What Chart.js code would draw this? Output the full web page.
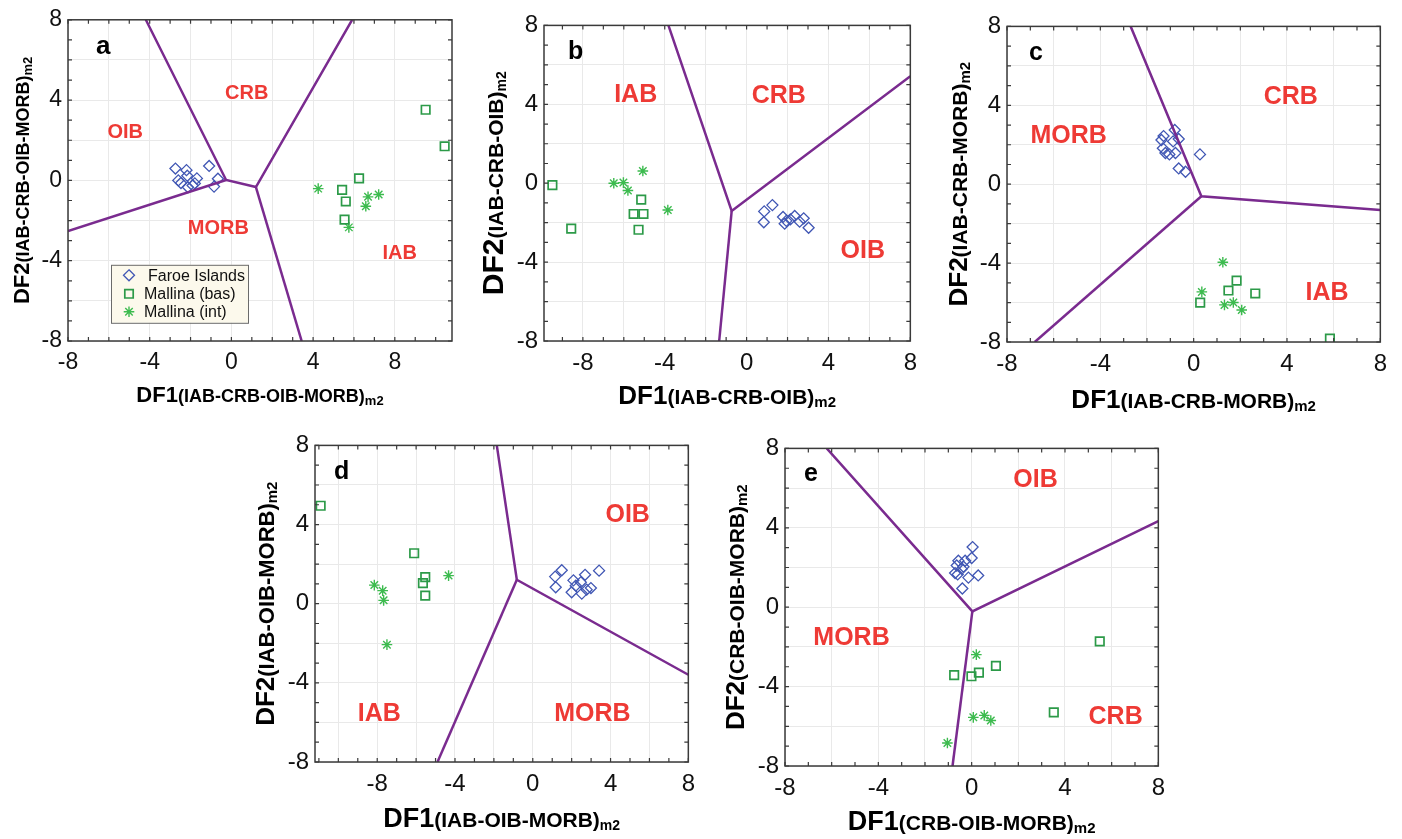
<!DOCTYPE html>
<html>
<head>
<meta charset="utf-8">
<script src="https://cdn.jsdelivr.net/npm/chart.js@4.4.1/dist/chart.umd.min.js"></script>
<style>
  html, body { margin: 0; padding: 0; background: #ffffff; }
  body { width: 1402px; height: 839px; position: relative; overflow: hidden; }
  canvas { position: absolute; }
</style>
</head>
<body>
<canvas id="panel-a"></canvas>
<canvas id="panel-b"></canvas>
<canvas id="panel-c"></canvas>
<canvas id="panel-d"></canvas>
<canvas id="panel-e"></canvas>
<script>
// values: [DF1, DF2]
const aFaroe = [[-2.74, 0.59], [-2.2, 0.51], [-1.09, 0.72], [-2.16, 0.23], [-2.6, 0], [-2.47, -0.13], [-1.69, 0.1], [-1.79, -0.15], [-2.13, -0.34], [-0.66, 0.08], [-0.85, -0.31], [-1.9, -0.25]];
const aBas = [[9.51, 3.52], [10.44, 1.7], [6.25, 0.1], [5.42, -0.47], [5.6, -1.05], [5.54, -1.95]];
const aInt = [[4.25, -0.41], [6.69, -0.82], [7.21, -0.7], [6.58, -1.29], [5.75, -2.34]];
const aBounds = [[[-4.19, 8], [-0.26, 0.02], [1.2, -0.33], [5.91, 8]], [[-8, -2.52], [-0.26, 0.02]], [[1.2, -0.33], [3.44, -8]]];
const aRegions = [['CRB', 0.75, 4.34], ['OIB', -5.2, 2.37], ['MORB', -0.64, -2.41], ['IAB', 8.24, -3.64]];

const bFaroe = [[0.86, -1.43], [1.26, -1.11], [0.84, -1.98], [1.78, -1.71], [1.86, -2.05], [2.14, -1.83], [2.35, -1.66], [2.59, -1.95], [2.79, -1.78], [3.03, -2.26], [1.94, -1.91]];
const bBas = [[-9.49, -0.1], [-8.57, -2.3], [-5.15, -0.83], [-5.52, -1.56], [-5.04, -1.56], [-5.28, -2.36]];
const bInt = [[-6.49, 0], [-6.02, 0.03], [-5.8, -0.37], [-5.07, 0.62], [-3.85, -1.36]];
const bBounds = [[[-3.82, 8], [-0.73, -1.41], [8, 5.42]], [[-0.73, -1.41], [-1.34, -8]]];
const bRegions = [['IAB', -5.42, 4.46], ['CRB', 1.57, 4.39], ['OIB', 5.68, -3.46]];

const cFaroe = [[-1.29, 2.44], [-1.38, 2.24], [-0.81, 2.75], [-0.88, 2.17], [-0.64, 2.29], [-1.32, 1.82], [-1.21, 1.58], [-1.04, 1.51], [-0.78, 1.58], [-0.64, 0.8], [-0.35, 0.63], [0.27, 1.51]];
const cBas = [[0.28, -6.0], [1.49, -5.39], [1.84, -4.89], [2.64, -5.54], [5.84, -7.83]];
const cInt = [[1.25, -3.96], [0.35, -5.46], [1.32, -6.12], [1.7, -6.0], [2.06, -6.38]];
const cBounds = [[[-2.7, 8], [0.33, -0.61], [8, -1.31]], [[0.33, -0.61], [-6.81, -8]]];
const cRegions = [['CRB', 4.16, 4.41], ['MORB', -5.36, 2.42], ['IAB', 5.72, -5.5]];

const dFaroe = [[1.15, 1.37], [1.49, 1.69], [1.18, 0.83], [2.09, 1.18], [2.21, 0.91], [2.0, 0.58], [2.47, 1.08], [2.69, 1.46], [2.52, 0.51], [2.77, 0.71], [2.99, 0.79], [3.41, 1.67]];
const dBas = [[-10.91, 4.95], [-6.1, 2.55], [-5.53, 1.34], [-5.65, 1.04], [-5.53, 0.41]];
const dInt = [[-8.15, 0.94], [-7.72, 0.66], [-7.67, 0.17], [-7.5, -2.07], [-4.33, 1.42]];
const dBounds = [[[-1.85, 8], [-0.82, 1.21], [8, -3.59]], [[-0.82, 1.21], [-4.9, -8]]];
const dRegions = [['OIB', 4.88, 4.49], ['IAB', -7.89, -5.58], ['MORB', 3.07, -5.58]];

const eFaroe = [[0.04, 3.03], [0, 2.48], [-0.57, 2.34], [-0.28, 2.34], [-0.35, 2.04], [-0.64, 2.1], [-0.71, 1.72], [-0.6, 1.65], [-0.43, 1.93], [-0.14, 1.49], [0.28, 1.6], [-0.4, 0.94]];
const eBas = [[5.49, -1.72], [1.04, -2.96], [0.31, -3.3], [-0.01, -3.48], [-0.75, -3.42], [3.52, -5.3]];
const eInt = [[0.2, -2.39], [0.07, -5.55], [0.54, -5.45], [0.82, -5.71], [-1.04, -6.84]];
const eBounds = [[[-6.21, 8], [0.03, -0.21], [8, 4.33]], [[0.03, -0.21], [-0.82, -8]]];
const eRegions = [['OIB', 2.74, 6.39], ['MORB', -5.15, -1.54], ['CRB', 6.17, -5.53]];

const legendLabels = ['Faroe Islands', 'Mallina (bas)', 'Mallina (int)'];

const FONT = '"Liberation Sans", Arial, Helvetica, sans-serif';
const PURPLE = '#7a2b8f';
const RED = '#ee3a35';
const BLUE = '#4157b4';
const GREEN_BAS = '#2c9a48';
const GREEN_INT = '#3dbb4f';
const GRID = '#e9e9e9';

const PANELS = [
  {
    id: 'panel-a', box: [68, 15, 452, 341], xRange: [-8, 10.8], letter: 'a', letterAt: [28, 34], letterSize: 26,
    faroe: aFaroe, bas: aBas, int: aInt, bounds: aBounds, regions: aRegions, regionSize: 20, tickSize: 23,
    xTitle: [['DF1', 22], ['(IAB-CRB-OIB-MORB)', 18], ['m2', 13, 3]], xTitleAt: 61,
    yTitle: [['DF2', 22], ['(IAB-CRB-OIB-MORB)', 18], ['m2', 13, 3]], yTitleAt: 39,
    legend: true,
  },
  {
    id: 'panel-b', box: [544, 20, 913, 341], xRange: [-9.9, 8], letter: 'b', letterAt: [24, 34], letterSize: 25,
    faroe: bFaroe, bas: bBas, int: bInt, bounds: bBounds, regions: bRegions, regionSize: 25, tickSize: 24,
    xTitle: [['DF1', 26], ['(IAB-CRB-OIB)', 21], ['m2', 15, 3]], xTitleAt: 63,
    yTitle: [['DF2', 30], ['(IAB-CRB-OIB)', 21], ['m2', 14, 3]], yTitleAt: 41,
  },
  {
    id: 'panel-c', box: [1007, 21, 1383, 342], xRange: [-8, 8], letter: 'c', letterAt: [22, 34], letterSize: 25,
    faroe: cFaroe, bas: cBas, int: cInt, bounds: cBounds, regions: cRegions, regionSize: 25, tickSize: 24,
    xTitle: [['DF1', 26], ['(IAB-CRB-MORB)', 21], ['m2', 15, 3]], xTitleAt: 66,
    yTitle: [['DF2', 26], ['(IAB-CRB-MORB)', 21], ['m2', 15, 3]], yTitleAt: 40,
  },
  {
    id: 'panel-d', box: [315, 440, 691, 762], xRange: [-11.2, 8], letter: 'd', letterAt: [19, 34], letterSize: 25,
    faroe: dFaroe, bas: dBas, int: dInt, bounds: dBounds, regions: dRegions, regionSize: 25, tickSize: 24,
    xTitle: [['DF1', 27], ['(IAB-OIB-MORB)', 21], ['m2', 14, 3]], xTitleAt: 65,
    yTitle: [['DF2', 26], ['(IAB-OIB-MORB)', 22], ['m2', 15, 3]], yTitleAt: 41,
  },
  {
    id: 'panel-e', box: [785, 443, 1161, 766], xRange: [-8, 8], letter: 'e', letterAt: [19, 33], letterSize: 25,
    faroe: eFaroe, bas: eBas, int: eInt, bounds: eBounds, regions: eRegions, regionSize: 25, tickSize: 24,
    xTitle: [['DF1', 27], ['(CRB-OIB-MORB)', 21], ['m2', 15, 3]], xTitleAt: 64,
    yTitle: [['DF2', 26], ['(CRB-OIB-MORB)', 21], ['m2', 15, 3]], yTitleAt: 41,
  },
];

const Y_AXIS_W = 70;
const X_AXIS_H = 75;
const PAD_TOP = 15;
const PAD_RIGHT = 12;

function toPoints(arr) {
  return arr.map(([x, y]) => ({ x, y }));
}

function drawParts(ctx, parts, cx, baseline) {
  const widths = parts.map(([text, size]) => {
    ctx.font = `bold ${size}px ${FONT}`;
    return ctx.measureText(text).width;
  });
  let x = cx - widths.reduce((s, w) => s + w, 0) / 2;
  parts.forEach(([text, size, dy], i) => {
    ctx.font = `bold ${size}px ${FONT}`;
    ctx.fillText(text, x, baseline + (dy || 0));
    x += widths[i];
  });
}

function marker(ctx, kind, x, y) {
  ctx.beginPath();
  if (kind === 'diamond') {
    ctx.strokeStyle = BLUE; ctx.lineWidth = 1.3;
    ctx.moveTo(x, y - 5.5); ctx.lineTo(x + 5.5, y); ctx.lineTo(x, y + 5.5); ctx.lineTo(x - 5.5, y); ctx.closePath();
  } else if (kind === 'square') {
    ctx.strokeStyle = GREEN_BAS; ctx.lineWidth = 1.7;
    ctx.rect(x - 4.2, y - 4.2, 8.4, 8.4);
  } else {
    ctx.strokeStyle = GREEN_INT; ctx.lineWidth = 1.4;
    const r = 5.3, d = r * Math.SQRT1_2;
    ctx.moveTo(x - r, y); ctx.lineTo(x + r, y);
    ctx.moveTo(x, y - r); ctx.lineTo(x, y + r);
    ctx.moveTo(x - d, y - d); ctx.lineTo(x + d, y + d);
    ctx.moveTo(x - d, y + d); ctx.lineTo(x + d, y - d);
  }
  ctx.stroke();
}

const panelDecor = {
  id: 'panelDecor',
  beforeDatasetsDraw(chart, args, opts) {
    const { ctx, scales: { x, y } } = chart;
    ctx.save();
    ctx.fillStyle = RED;
    ctx.font = `bold ${opts.regionSize}px ${FONT}`;
    ctx.textAlign = 'center';
    ctx.textBaseline = 'middle';
    opts.regions.forEach(([text, vx, vy]) => {
      ctx.fillText(text, x.getPixelForValue(vx), y.getPixelForValue(vy));
    });
    ctx.restore();
  },
  afterDraw(chart, args, opts) {
    const { ctx, chartArea: ca, scales: { x, y } } = chart;
    ctx.save();

    // frame with inward minor ticks on all four sides
    ctx.strokeStyle = '#3a3a3a';
    ctx.lineWidth = 1.2;
    ctx.beginPath();
    for (let v = Math.ceil(x.min); v <= x.max; v++) {
      const px = x.getPixelForValue(v);
      ctx.moveTo(px, ca.bottom); ctx.lineTo(px, ca.bottom - 4);
      ctx.moveTo(px, ca.top); ctx.lineTo(px, ca.top + 4);
    }
    for (let v = Math.ceil(y.min); v <= y.max; v++) {
      const py = y.getPixelForValue(v);
      ctx.moveTo(ca.left, py); ctx.lineTo(ca.left + 4, py);
      ctx.moveTo(ca.right, py); ctx.lineTo(ca.right - 4, py);
    }
    ctx.stroke();
    ctx.lineWidth = 1.5;
    ctx.strokeRect(ca.left, ca.top, ca.right - ca.left, ca.bottom - ca.top);

    // panel letter
    ctx.fillStyle = '#000';
    ctx.textAlign = 'left';
    ctx.textBaseline = 'alphabetic';
    ctx.font = `bold ${opts.letterSize}px ${FONT}`;
    ctx.fillText(opts.letter, ca.left + opts.letterAt[0], ca.top + opts.letterAt[1]);

    // axis titles
    drawParts(ctx, opts.xTitle, (ca.left + ca.right) / 2, ca.bottom + opts.xTitleAt);
    ctx.save();
    ctx.translate(ca.left - opts.yTitleAt, (ca.top + ca.bottom) / 2);
    ctx.rotate(-Math.PI / 2);
    drawParts(ctx, opts.yTitle, 0, 0);
    ctx.restore();

    // legend box
    if (opts.legend) {
      const lx = ca.left + 43, ly = ca.top + 245;
      ctx.fillStyle = '#fcf9ec';
      ctx.fillRect(lx, ly, 137, 58);
      ctx.strokeStyle = '#6b6b6b';
      ctx.lineWidth = 1;
      ctx.strokeRect(lx + 0.5, ly + 0.5, 137, 58);
      const kinds = ['diamond', 'square', 'star'];
      const textX = [37, 33, 33];
      const rowY = [10.5, 29, 47];
      ctx.font = `16px ${FONT}`;
      ctx.textBaseline = 'middle';
      legendLabels.forEach((label, i) => {
        marker(ctx, kinds[i], lx + 18, ly + rowY[i]);
        ctx.fillStyle = '#111';
        ctx.fillText(label, lx + textX[i], ly + rowY[i] + 1);
      });
    }
    ctx.restore();
  },
};

function axis(min, max, size, fontSize, pad) {
  return {
    type: 'linear',
    min,
    max,
    afterFit: (scale) => {
      if (scale.isHorizontal()) scale.height = size;
      else scale.width = size;
    },
    ticks: {
      stepSize: 1,
      autoSkip: false,
      maxRotation: 0,
      minRotation: 0,
      padding: pad,
      color: '#111',
      font: { family: FONT, size: fontSize },
      callback: (v) => (Number.isInteger(v) && v % 4 === 0 ? String(Math.abs(v) < 1e-9 ? 0 : v) : ''),
    },
    grid: {
      drawTicks: false,
      lineWidth: 1,
      color: (c) => (c.tick && Number.isInteger(c.tick.value) && c.tick.value % 2 === 0 ? GRID : 'rgba(0,0,0,0)'),
    },
    border: { display: false },
  };
}

function renderPanel(p) {
  const [left, top, right, bottom] = p.box;
  const canvas = document.getElementById(p.id);
  const w = right - left + Y_AXIS_W + PAD_RIGHT;
  const h = bottom - top + PAD_TOP + X_AXIS_H;
  canvas.width = w;
  canvas.height = h;
  canvas.style.width = w + 'px';
  canvas.style.height = h + 'px';
  canvas.style.left = (left - Y_AXIS_W) + 'px';
  canvas.style.top = (top - PAD_TOP) + 'px';

  const lines = p.bounds.map((path) => ({
    type: 'scatter',
    data: toPoints(path),
    showLine: true,
    borderColor: PURPLE,
    borderWidth: 2.5,
    pointRadius: 0,
    tension: 0,
    fill: false,
  }));

  new Chart(canvas, {
    type: 'scatter',
    data: {
      datasets: [
        ...lines,
        { label: legendLabels[0], data: toPoints(p.faroe), pointStyle: 'rectRot', pointRadius: 5.5, borderColor: BLUE, backgroundColor: 'rgba(0,0,0,0)', borderWidth: 1.3 },
        { label: legendLabels[1], data: toPoints(p.bas), pointStyle: 'rect', pointRadius: 6, borderColor: GREEN_BAS, backgroundColor: 'rgba(0,0,0,0)', borderWidth: 1.7 },
        { label: legendLabels[2], data: toPoints(p.int), pointStyle: 'star', pointRadius: 5.3, borderColor: GREEN_INT, backgroundColor: 'rgba(0,0,0,0)', borderWidth: 1.4 },
      ],
    },
    options: {
      animation: false,
      responsive: false,
      devicePixelRatio: 1,
      events: [],
      layout: { padding: { top: PAD_TOP, right: PAD_RIGHT, left: 0, bottom: 0 } },
      scales: {
        x: axis(p.xRange[0], p.xRange[1], X_AXIS_H, p.tickSize, 8),
        y: axis(-8, 8, Y_AXIS_W, p.tickSize, 6),
      },
      plugins: {
        legend: { display: false },
        tooltip: { enabled: false },
        panelDecor: p,
      },
    },
    plugins: [panelDecor],
  });
}

window.addEventListener('DOMContentLoaded', () => {
  PANELS.forEach(renderPanel);
});
</script>
</body>
</html>
